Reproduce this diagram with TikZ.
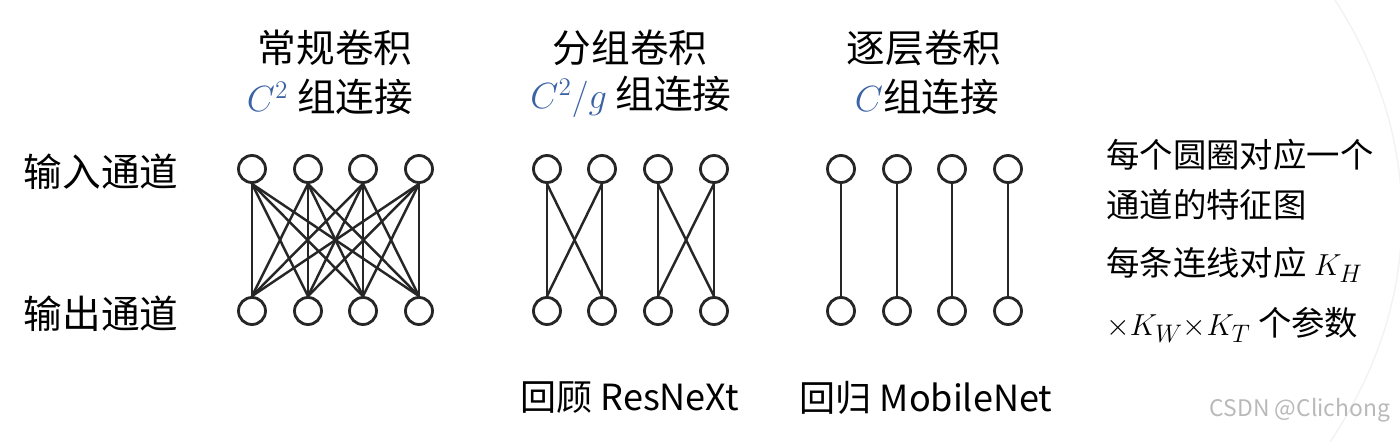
\documentclass[tikz,border=0pt]{standalone}
\usepackage{fontspec}
\setmainfont{Noto Sans CJK SC}
\definecolor{mathblue}{RGB}{58,98,165}
\tikzset{
  ch/.style={circle,draw=black!85,line width=1.6pt,minimum size=0.54cm,inner sep=0pt},
  link/.style={draw=black!85,line width=1.4pt},
  head/.style={font=\fontsize{22}{26}\selectfont,inner sep=0pt},
  note/.style={font=\fontsize{19}{23}\selectfont,inner sep=0pt,anchor=west},
  foot/.style={font=\fontsize{20.5}{24}\selectfont,inner sep=0pt}
}

\begin{document}
\begin{tikzpicture}[x=0.02cm,y=-0.02cm]
\useasboundingbox (0,0) rectangle (1400,442);
\draw[gray!10,line width=0.8pt] (1335,0) .. controls (1425,140) and (1425,300) .. (1330,442);

% regular convolution
\foreach \i/\x in {1/252,2/308,3/363,4/419} {
  \node[ch] (a\i) at (\x,169) {};
  \node[ch] (A\i) at (\x,311) {};
}
\foreach \i in {1,...,4}
  \foreach \j in {1,...,4}
    \draw[link] (a\i.south) -- (A\j.north);

% group convolution
\foreach \i/\x in {1/547,2/602,3/658,4/714} {
  \node[ch] (b\i) at (\x,169) {};
  \node[ch] (B\i) at (\x,311) {};
}
\foreach \i/\j in {1/1,1/2,2/1,2/2,3/3,3/4,4/3,4/4}
  \draw[link] (b\i.south) -- (B\j.north);

% depthwise convolution
\foreach \i/\x in {1/841,2/897,3/952,4/1008} {
  \node[ch] (c\i) at (\x,169) {};
  \node[ch] (C\i) at (\x,311) {};
}
\foreach \i in {1,...,4}
  \draw[link] (c\i.south) -- (C\i.north);

% titles
\node[head] (h1) at (335,48) {常规卷积};
\node[head] (s1) at (330,97) {\textcolor{mathblue}{$C^2$}\ 组连接};
\node[head] (h2) at (630,48) {分组卷积};
\node[head] (s2) at (631,97) {\textcolor{mathblue}{$C^2/g$}\ 组连接};
\node[head] (h3) at (924,48) {逐层卷积};
\node[head] (s3) at (927,97) {\textcolor{mathblue}{$C$}组连接};

\node[head] (inl) at (101,172) {输入通道};
\node[head] (outl) at (101,314) {输出通道};

\node[foot] (r1) at (630,398) {回顾 ResNeXt};
\node[foot] (r2) at (926,398) {回归 MobileNet};

% notes
\node[note] (n1) at (1106,155) {每个圆圈对应一个};
\node[note] (n2) at (1106,205) {通道的特征图};
\node[note] (n3) at (1106,265) {每条连线对应 $K_H$};
\node[note] (n4) at (1106,325) {${\times}K_W{\times}K_T$ 个参数};

\node[font=\fontsize{13}{15}\selectfont,text=gray!55,inner sep=0pt] (wm) at (1300,410) {CSDN @Clichong};
\end{tikzpicture}
\end{document}
